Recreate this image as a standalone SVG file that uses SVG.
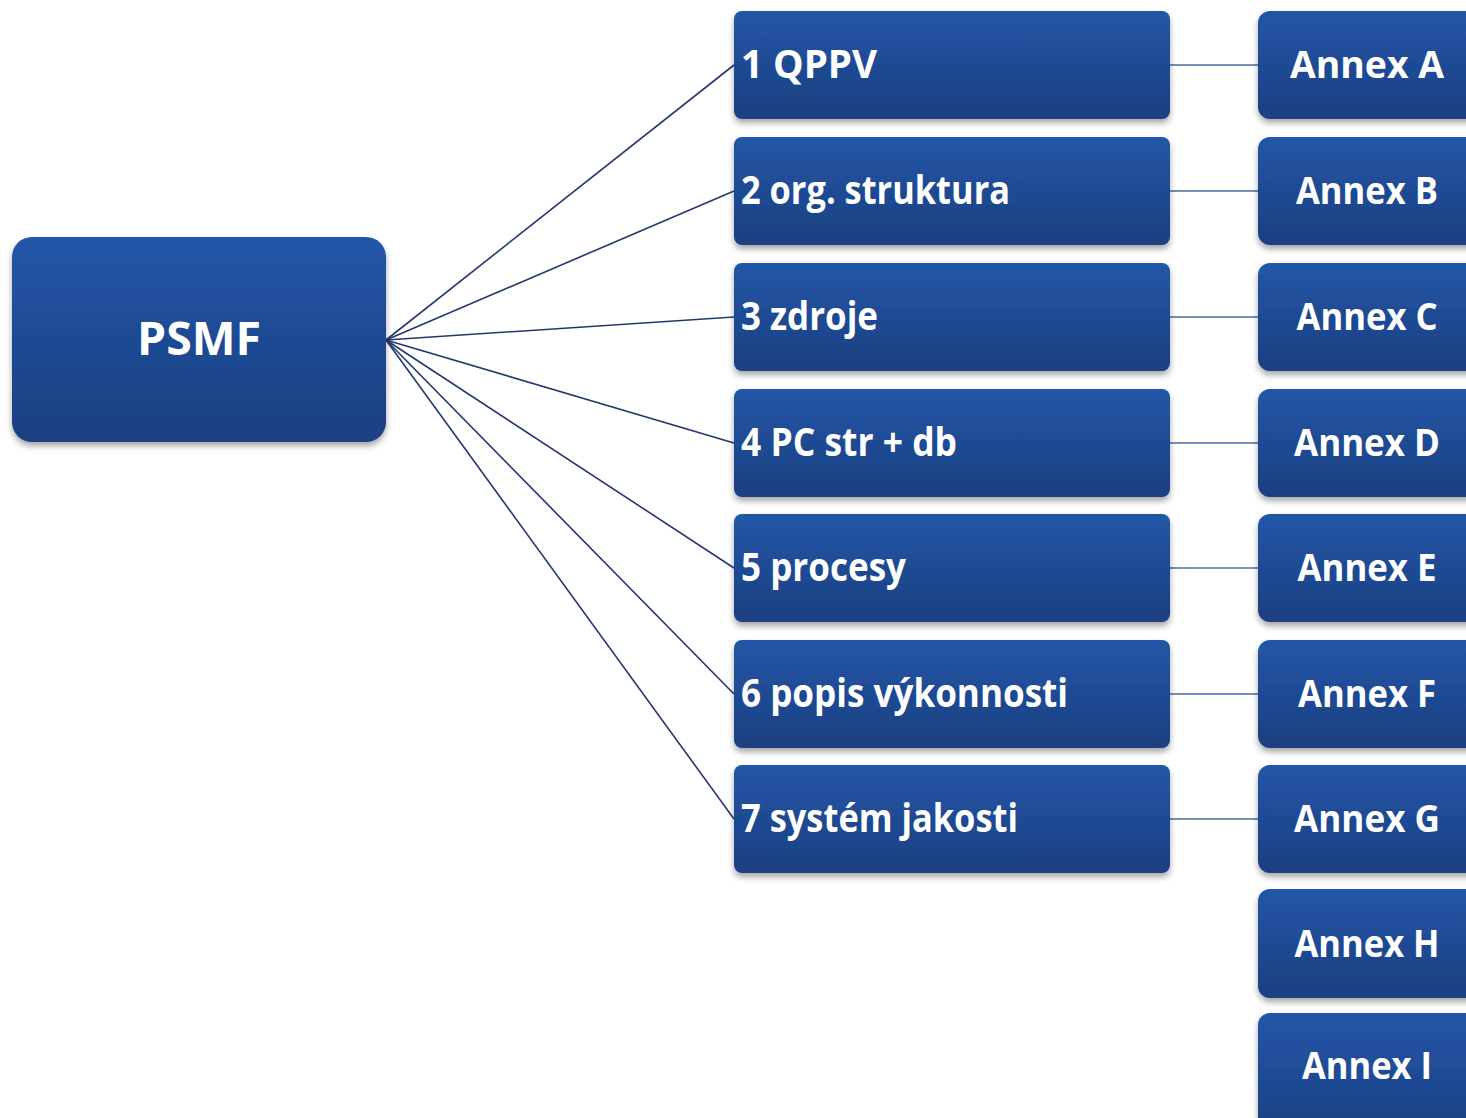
<svg xmlns="http://www.w3.org/2000/svg" width="1466" height="1118" viewBox="0 0 1466 1118">
<defs>
<linearGradient id="g" x1="0" y1="0" x2="0" y2="1">
<stop offset="0" stop-color="#2456a7"/>
<stop offset="1" stop-color="#1a3f80"/>
</linearGradient>
<filter id="sh" x="-10%" y="-10%" width="120%" height="130%">
<feDropShadow dx="0" dy="4" stdDeviation="3" flood-color="#000" flood-opacity="0.35"/>
</filter>
<style>
.box{fill:url(#g);filter:url(#sh)}
.t{font-family:"Open Sans","Liberation Sans",sans-serif;font-weight:700;fill:#fff}
.m{font-size:39px}
.a{font-size:37px;text-anchor:middle}
.c{stroke:#23396e;stroke-width:1.6;fill:none}
.h{stroke:#4a68a0;stroke-width:1.6;fill:none}
</style>
</defs>
<rect width="1466" height="1118" fill="#fff"/>
<g id="connectors">
<line class="c" x1="386" y1="340" x2="734" y2="65"/>
<line class="c" x1="386" y1="340" x2="734" y2="191"/>
<line class="c" x1="386" y1="340" x2="734" y2="317"/>
<line class="c" x1="386" y1="340" x2="734" y2="443"/>
<line class="c" x1="386" y1="340" x2="734" y2="568"/>
<line class="c" x1="386" y1="340" x2="734" y2="694"/>
<line class="c" x1="386" y1="340" x2="734" y2="819"/>
<line class="h" x1="1170" y1="65" x2="1258" y2="65"/>
<line class="h" x1="1170" y1="191" x2="1258" y2="191"/>
<line class="h" x1="1170" y1="317" x2="1258" y2="317"/>
<line class="h" x1="1170" y1="443" x2="1258" y2="443"/>
<line class="h" x1="1170" y1="568" x2="1258" y2="568"/>
<line class="h" x1="1170" y1="694" x2="1258" y2="694"/>
<line class="h" x1="1170" y1="819" x2="1258" y2="819"/>
</g>
<g id="psmf">
<rect class="box" x="12" y="237" width="374" height="205" rx="20"/>
<text class="t" x="199" y="355" font-size="46" text-anchor="middle" textLength="124" lengthAdjust="spacingAndGlyphs">PSMF</text>
</g>
<g id="n1"><rect class="box" x="734" y="11" width="436" height="108" rx="8"/><text class="t m" x="741" y="78" textLength="136" lengthAdjust="spacingAndGlyphs">1 QPPV</text></g>
<g id="n2"><rect class="box" x="734" y="137" width="436" height="108" rx="8"/><text class="t m" x="741" y="204" textLength="269" lengthAdjust="spacingAndGlyphs">2 org. struktura</text></g>
<g id="n3"><rect class="box" x="734" y="263" width="436" height="108" rx="8"/><text class="t m" x="741" y="330" textLength="137" lengthAdjust="spacingAndGlyphs">3 zdroje</text></g>
<g id="n4"><rect class="box" x="734" y="389" width="436" height="108" rx="8"/><text class="t m" x="741" y="456" textLength="216" lengthAdjust="spacingAndGlyphs">4 PC str + db</text></g>
<g id="n5"><rect class="box" x="734" y="514" width="436" height="108" rx="8"/><text class="t m" x="741" y="581" textLength="165" lengthAdjust="spacingAndGlyphs">5 procesy</text></g>
<g id="n6"><rect class="box" x="734" y="640" width="436" height="108" rx="8"/><text class="t m" x="741" y="707" textLength="327" lengthAdjust="spacingAndGlyphs">6 popis výkonnosti</text></g>
<g id="n7"><rect class="box" x="734" y="765" width="436" height="108" rx="8"/><text class="t m" x="741" y="832" textLength="277" lengthAdjust="spacingAndGlyphs">7 systém jakosti</text></g>
<g id="annexA"><rect class="box" x="1258" y="11" width="230" height="108" rx="12"/><text class="t a" x="1367" y="78" textLength="154" lengthAdjust="spacingAndGlyphs">Annex A</text></g>
<g id="annexB"><rect class="box" x="1258" y="137" width="230" height="108" rx="12"/><text class="t a" x="1367" y="204" textLength="142" lengthAdjust="spacingAndGlyphs">Annex B</text></g>
<g id="annexC"><rect class="box" x="1258" y="263" width="230" height="108" rx="12"/><text class="t a" x="1367" y="330" textLength="141" lengthAdjust="spacingAndGlyphs">Annex C</text></g>
<g id="annexD"><rect class="box" x="1258" y="389" width="230" height="108" rx="12"/><text class="t a" x="1367" y="456" textLength="146" lengthAdjust="spacingAndGlyphs">Annex D</text></g>
<g id="annexE"><rect class="box" x="1258" y="514" width="230" height="108" rx="12"/><text class="t a" x="1367" y="581" textLength="139" lengthAdjust="spacingAndGlyphs">Annex E</text></g>
<g id="annexF"><rect class="box" x="1258" y="640" width="230" height="108" rx="12"/><text class="t a" x="1367" y="707" textLength="138" lengthAdjust="spacingAndGlyphs">Annex F</text></g>
<g id="annexG"><rect class="box" x="1258" y="765" width="230" height="108" rx="12"/><text class="t a" x="1367" y="832" textLength="146" lengthAdjust="spacingAndGlyphs">Annex G</text></g>
<g id="annexH"><rect class="box" x="1258" y="889" width="230" height="109" rx="12"/><text class="t a" x="1367" y="957" textLength="145" lengthAdjust="spacingAndGlyphs">Annex H</text></g>
<g id="annexI"><rect class="box" x="1258" y="1013" width="230" height="130" rx="12"/><text class="t a" x="1367" y="1079" textLength="130" lengthAdjust="spacingAndGlyphs">Annex I</text></g>
</svg>
